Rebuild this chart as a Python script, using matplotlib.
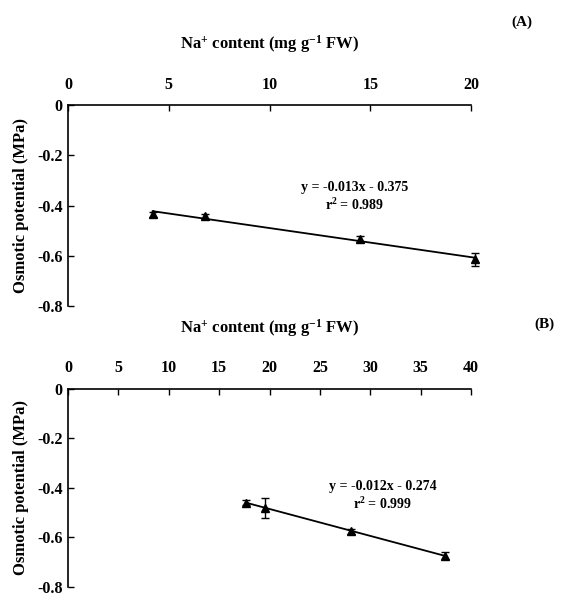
import numpy as np
import matplotlib
matplotlib.use('Agg')
import matplotlib.pyplot as plt

plt.rcParams['font.family'] = 'Liberation Serif'
plt.rcParams['font.weight'] = 'bold'
plt.rcParams['mathtext.fontset'] = 'custom'
plt.rcParams['mathtext.rm'] = 'Liberation Serif:bold'
plt.rcParams['mathtext.bf'] = 'Liberation Serif:bold'
plt.rcParams['mathtext.it'] = 'Liberation Serif:bold'

# panel A
na_a = [4.2, 6.8, 14.5, 20.2]
op_a = [-0.434, -0.442, -0.535, -0.614]
err_a = [0.010, 0.010, 0.012, 0.025]
eq_a = 'y = -0.013x - 0.375'
r2_a = 'r$^{2}$ = 0.989'
xticks_a = [0, 5, 10, 15, 20]

# panel B
na_b = [17.7, 19.6, 28.1, 37.4]
op_b = [-0.459, -0.480, -0.575, -0.673]
err_b = [0.010, 0.040, 0.010, 0.015]
eq_b = 'y = -0.012x - 0.274'
r2_b = 'r$^{2}$ = 0.999'
xticks_b = [0, 5, 10, 15, 20, 25, 30, 35, 40]

yticks = [0, -0.2, -0.4, -0.6, -0.8]
ytick_labels = ['0', '-0.2', '-0.4', '-0.6', '-0.8']

fig = plt.figure(figsize=(5.71, 5.98), dpi=100)
ax_a = fig.add_axes([0.1191, 0.4883, 0.7058, 0.3361])
ax_b = fig.add_axes([0.1191, 0.0184, 0.7058, 0.3311])


def draw_panel(ax, x, y, err, xticks, eq, r2, eq_pos, tag, tag_pos):
    ax.errorbar(x, y, yerr=err, fmt='^', color='black', ms=6,
                capsize=3, elinewidth=1, capthick=1, clip_on=False)
    slope, icept = np.polyfit(x, y, 1)
    xs = np.array([min(x), max(x)])
    ax.plot(xs, slope * xs + icept, color='black', lw=1.3, clip_on=False)

    ax.set_xlim(xticks[0], xticks[-1])
    ax.set_ylim(-0.8, 0)
    ax.set_xticks(xticks)
    ax.set_yticks(yticks)
    ax.set_yticklabels(ytick_labels)
    ax.xaxis.tick_top()
    ax.xaxis.set_label_position('top')
    ax.tick_params(axis='both', direction='in', length=4, width=1,
                   labelsize=11.5)
    ax.tick_params(axis='x', pad=9)
    ax.tick_params(axis='y', pad=4)
    for s in ['right', 'bottom']:
        ax.spines[s].set_visible(False)
    for s in ['top', 'left']:
        ax.spines[s].set_linewidth(1.2)

    ax.set_xlabel('Na$^{+}$ content (mg g$^{-1}$ FW)',
                  fontsize=12, fontweight='bold', labelpad=20)
    ax.set_ylabel('Osmotic potential (MPa)', fontsize=12,
                  fontweight='bold', labelpad=6)

    ax.text(eq_pos[0], eq_pos[1], eq, transform=ax.transAxes,
            ha='center', va='center', fontsize=10, fontweight='bold')
    ax.text(eq_pos[0], eq_pos[1] - 0.092, r2, transform=ax.transAxes,
            ha='center', va='center', fontsize=10, fontweight='bold')
    fig.text(tag_pos[0], tag_pos[1], tag, fontsize=11, fontweight='bold',
             ha='left', va='center')


draw_panel(ax_a, na_a, op_a, err_a, xticks_a, eq_a, r2_a,
           (0.71, 0.592), '(A)', (0.895, 0.962))
draw_panel(ax_b, na_b, op_b, err_b, xticks_b, eq_b, r2_b,
           (0.78, 0.51), '(B)', (0.935, 0.457))

plt.savefig('out.png', dpi=100)
